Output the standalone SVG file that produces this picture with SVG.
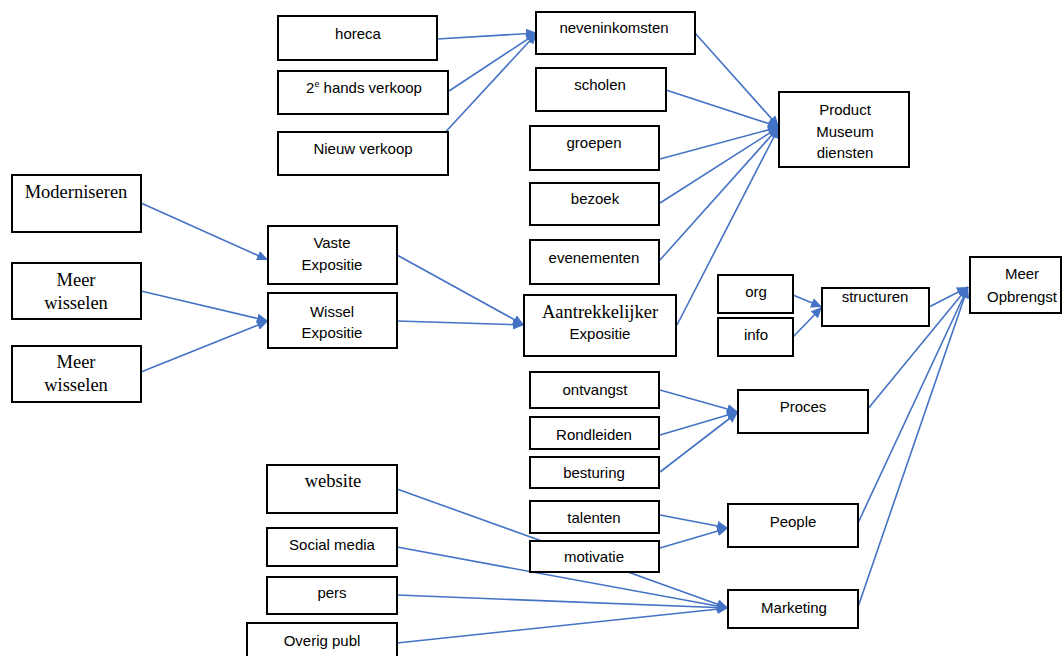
<svg xmlns="http://www.w3.org/2000/svg" width="1062" height="656" viewBox="0 0 1062 656">
<style>
.box{fill:#fff;stroke:#000;stroke-width:2}
.t{font-family:"Liberation Sans",Arial,sans-serif;font-size:15px;fill:#000;text-anchor:middle}
.s{font-family:"Liberation Serif","Times New Roman",serif;font-size:18.5px;fill:#000;text-anchor:middle}
.c{stroke:#4472C4;stroke-width:1.6;fill:none}
.a{marker-end:url(#arr)}
</style>
<defs>
<marker id="arr" markerUnits="userSpaceOnUse" markerWidth="11" markerHeight="10" refX="11" refY="5" orient="auto">
<path d="M0,0 L11,5 L0,10 z" fill="#4472C4"/>
</marker>
</defs>
<rect width="1062" height="656" fill="#fff"/>
<g id="connectors">
<line class="c a" x1="437" y1="39" x2="537" y2="33"/>
<line class="c a" x1="449" y1="91" x2="537" y2="33"/>
<line class="c a" x1="440" y1="138" x2="537" y2="33"/>
<line class="c a" x1="695" y1="33" x2="779" y2="127"/>
<line class="c a" x1="666" y1="90" x2="779" y2="127"/>
<line class="c a" x1="660" y1="159" x2="779" y2="127"/>
<line class="c a" x1="660" y1="203" x2="779" y2="127"/>
<line class="c a" x1="660" y1="260" x2="779" y2="127"/>
<line class="c a" x1="677" y1="325" x2="779" y2="127"/>
<line class="c a" x1="141" y1="203" x2="268" y2="260"/>
<line class="c a" x1="141" y1="291" x2="268" y2="321"/>
<line class="c a" x1="141" y1="372" x2="268" y2="321"/>
<line class="c a" x1="397" y1="255" x2="524" y2="325"/>
<line class="c a" x1="397" y1="321" x2="524" y2="325"/>
<line class="c a" x1="793" y1="295" x2="822" y2="307"/>
<line class="c a" x1="793" y1="337" x2="822" y2="307"/>
<line class="c a" x1="929" y1="307" x2="968" y2="287"/>
<line class="c a" x1="867" y1="410" x2="968" y2="287"/>
<line class="c a" x1="858" y1="523" x2="968" y2="287"/>
<line class="c a" x1="858" y1="607" x2="968" y2="287"/>
<line class="c a" x1="660" y1="390" x2="738" y2="412"/>
<line class="c a" x1="660" y1="435" x2="738" y2="412"/>
<line class="c a" x1="660" y1="472" x2="738" y2="412"/>
<line class="c a" x1="660" y1="515" x2="728" y2="528"/>
<line class="c a" x1="660" y1="548" x2="728" y2="528"/>
<line class="c a" x1="397" y1="489" x2="728" y2="608"/>
<line class="c a" x1="397" y1="547" x2="728" y2="608"/>
<line class="c a" x1="397" y1="595" x2="728" y2="608"/>
<line class="c a" x1="397" y1="643" x2="728" y2="608"/>
</g>
<g id="horeca"><rect class="box" x="278" y="16" width="159" height="44"/><text class="t" x="358" y="39">horeca</text></g>
<g id="tweedehands"><rect class="box" x="278" y="71" width="170" height="43"/><text class="t" x="364" y="93">2<tspan font-size="9" dy="-6">e</tspan><tspan dy="6"> hands verkoop</tspan></text></g>
<g id="nieuwverkoop"><rect class="box" x="278" y="132" width="170" height="43"/><text class="t" x="363" y="154">Nieuw verkoop</text></g>
<g id="neveninkomsten"><rect class="box" x="536" y="12" width="159" height="42"/><text class="t" x="614" y="33">neveninkomsten</text></g>
<g id="scholen"><rect class="box" x="536" y="68" width="130" height="43"/><text class="t" x="600" y="90">scholen</text></g>
<g id="groepen"><rect class="box" x="530" y="126" width="129" height="44"/><text class="t" x="594" y="148">groepen</text></g>
<g id="bezoek"><rect class="box" x="530" y="183" width="129" height="42"/><text class="t" x="595" y="204">bezoek</text></g>
<g id="evenementen"><rect class="box" x="530" y="240" width="129" height="44"/><text class="t" x="594" y="263">evenementen</text></g>
<g id="aantrekkelijker"><rect class="box" x="524" y="295" width="152" height="61"/><text class="s" x="600" y="318">Aantrekkelijker</text><text class="t" x="600" y="339">Expositie</text></g>
<g id="product"><rect class="box" x="779" y="92" width="130" height="75"/><text class="t" x="845" y="115">Product</text><text class="t" x="845" y="137">Museum</text><text class="t" x="845" y="158">diensten</text></g>
<g id="meeropbrengst"><rect class="box" x="970" y="257" width="91" height="56"/><text class="t" x="1022" y="279">Meer</text><text class="t" x="1022" y="302">Opbrengst</text></g>
<g id="org"><rect class="box" x="718" y="275" width="75" height="38"/><text class="t" x="756" y="297">org</text></g>
<g id="info"><rect class="box" x="718" y="318" width="75" height="38"/><text class="t" x="756" y="340">info</text></g>
<g id="structuren"><rect class="box" x="822" y="288" width="107" height="38"/><text class="t" x="875" y="302">structuren</text></g>
<g id="moderniseren"><rect class="box" x="12" y="175" width="129" height="57"/><text class="s" x="76" y="198">Moderniseren</text></g>
<g id="meerwisselen1"><rect class="box" x="12" y="263" width="129" height="56"/><text class="s" x="76" y="286">Meer</text><text class="s" x="76" y="309">wisselen</text></g>
<g id="meerwisselen2"><rect class="box" x="12" y="346" width="129" height="56"/><text class="s" x="76" y="368">Meer</text><text class="s" x="76" y="391">wisselen</text></g>
<g id="vaste"><rect class="box" x="268" y="226" width="129" height="58"/><text class="t" x="332" y="248">Vaste</text><text class="t" x="332" y="270">Expositie</text></g>
<g id="wissel"><rect class="box" x="268" y="293" width="129" height="55"/><text class="t" x="332" y="317">Wissel</text><text class="t" x="332" y="338">Expositie</text></g>
<g id="ontvangst"><rect class="box" x="530" y="372" width="129" height="36"/><text class="t" x="595" y="395">ontvangst</text></g>
<g id="rondleiden"><rect class="box" x="530" y="417" width="129" height="32"/><text class="t" x="594" y="440">Rondleiden</text></g>
<g id="besturing"><rect class="box" x="530" y="457" width="129" height="31"/><text class="t" x="594" y="478">besturing</text></g>
<g id="talenten"><rect class="box" x="530" y="501" width="129" height="32"/><text class="t" x="594" y="523">talenten</text></g>
<g id="motivatie"><rect class="box" x="530" y="541" width="129" height="31"/><text class="t" x="594" y="562">motivatie</text></g>
<g id="proces"><rect class="box" x="738" y="390" width="130" height="43"/><text class="t" x="803" y="412">Proces</text></g>
<g id="people"><rect class="box" x="728" y="504" width="130" height="43"/><text class="t" x="793" y="527">People</text></g>
<g id="marketing"><rect class="box" x="728" y="590" width="130" height="38"/><text class="t" x="794" y="613">Marketing</text></g>
<g id="website"><rect class="box" x="267" y="465" width="130" height="48"/><text class="s" x="333" y="487">website</text></g>
<g id="socialmedia"><rect class="box" x="267" y="528" width="130" height="38"/><text class="t" x="332" y="550">Social media</text></g>
<g id="pers"><rect class="box" x="267" y="577" width="130" height="37"/><text class="t" x="332" y="598">pers</text></g>
<g id="overigpubl"><rect class="box" x="247" y="623" width="150" height="40"/><text class="t" x="322" y="646">Overig publ</text></g>
</svg>
